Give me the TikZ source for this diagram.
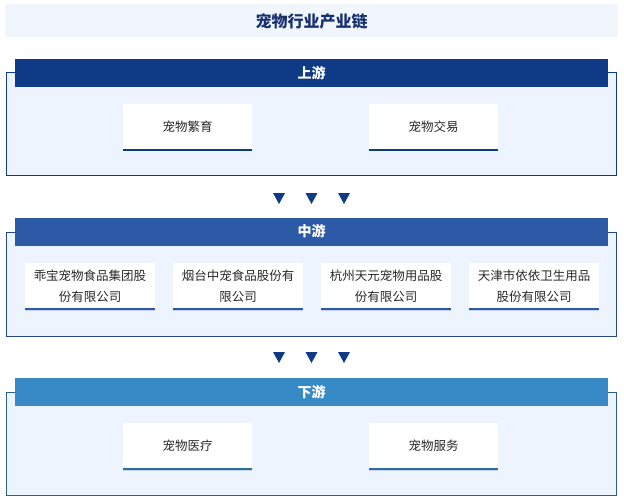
\documentclass[tikz,border=0pt]{standalone}
\usepackage{fontspec}
\newfontfamily\cjk{Noto Sans CJK SC}
\usepackage{tikz}
\usetikzlibrary{shadows}
\usepackage{xcolor}

\definecolor{bandbg}{RGB}{241,245,252}
\definecolor{titlecol}{RGB}{22,48,112}
\definecolor{upcol}{RGB}{15,58,134}
\definecolor{midcol}{RGB}{45,90,166}
\definecolor{downcol}{RGB}{56,138,198}
\definecolor{boxbg}{RGB}{238,244,253}
\definecolor{textcol}{RGB}{40,40,40}

\tikzset{
  stagebox/.style={line width=1pt, fill=boxbg},
  stagehead/.style={inner sep=0pt, minimum width=593, minimum height=28, text=white, font=\cjk\bfseries\fontsize{14}{14}\selectfont},
  itembox/.style={fill=white, inner sep=0pt, minimum height=46, align=center, text=textcol, font=\cjk\fontsize{12.5}{21}\selectfont,
    drop shadow={shadow xshift=0pt, shadow yshift=-1.5pt, opacity=0.18, fill=upcol}},
  marker/.style={fill=upcol}
}

\begin{document}
\begin{tikzpicture}[x=1pt,y=1pt,yscale=-1,xscale=1]
\useasboundingbox (0,0) rectangle (624,500);
\fill [white] (0,0) rectangle (624,500);

%Shape: Title band
\fill [bandbg] (5,4) rectangle (618,37);
% Text Node
\node (title) at (311.5,21) [text=titlecol, font=\cjk\bfseries\fontsize{16}{16}\selectfont] {宠物行业产业链};

%Shape: Upstream
\draw [stagebox, draw=upcol] (6,73) rectangle (616,176);
\node (uphead) at (311.5,73) [stagehead, fill=upcol] {上游};
\node (up1) at (187.5,127) [itembox, minimum width=129] {宠物繁育};
\node (up2) at (433.5,127) [itembox, minimum width=129] {宠物交易};
\foreach \b in {up1,up2}
  \draw [upcol, line width=1.5pt] (\b.south west) -- (\b.south east);

%Shape: Markers
\foreach \mx in {279,311.5,344} {
  \fill [marker] (\mx-6,193) -- (\mx+6,193) -- (\mx,204) -- cycle;
  \fill [marker] (\mx-6,352) -- (\mx+6,352) -- (\mx,363) -- cycle;
}

%Shape: Midstream
\draw [stagebox, draw=midcol!80!black] (6,232) rectangle (616,336);
\node (midhead) at (311.5,231.5) [stagehead, fill=midcol] {中游};
\node (mid1) at (90,286) [itembox, minimum width=130] {乖宝宠物食品集团股\\份有限公司};
\node (mid2) at (238,286) [itembox, minimum width=130] {烟台中宠食品股份有\\限公司};
\node (mid3) at (386,286) [itembox, minimum width=130] {杭州天元宠物用品股\\份有限公司};
\node (mid4) at (534,286) [itembox, minimum width=130] {天津市依依卫生用品\\股份有限公司};
\foreach \b in {mid1,mid2,mid3,mid4}
  \draw [midcol, line width=1.5pt] (\b.south west) -- (\b.south east);

%Shape: Downstream
\draw [stagebox, draw=downcol!70!black] (6,392) rectangle (616,495);
\node (downhead) at (311.5,392) [stagehead, fill=downcol] {下游};
\node (down1) at (187.5,446) [itembox, minimum width=129] {宠物医疗};
\node (down2) at (433.5,446) [itembox, minimum width=129] {宠物服务};
\foreach \b in {down1,down2}
  \draw [downcol!80!black, line width=1.5pt] (\b.south west) -- (\b.south east);

\end{tikzpicture}
\end{document}
